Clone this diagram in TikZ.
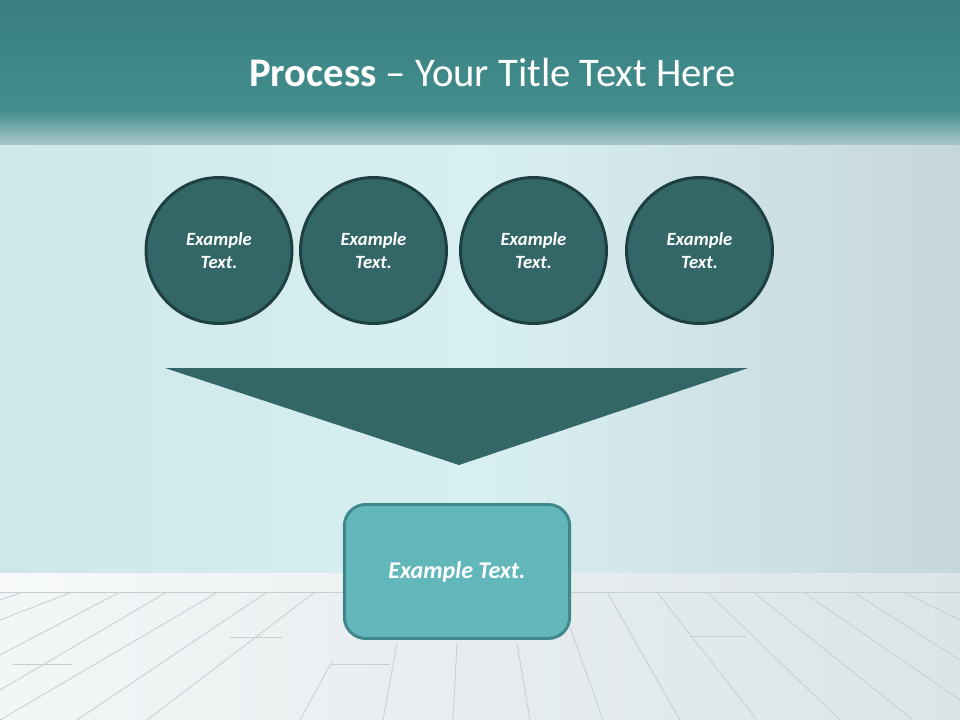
\documentclass[tikz,border=0pt]{standalone}
\usepackage{fontspec}
\setmainfont{Carlito}
\definecolor{bandtop}{HTML}{3A7F80}
\definecolor{bandmid}{HTML}{438D8D}
\definecolor{bandlow}{HTML}{A9C7C8}
\definecolor{wallleft}{HTML}{D0E7EA}
\definecolor{wallmid}{HTML}{D8EFF1}
\definecolor{wallright}{HTML}{C6D7DB}
\definecolor{floorleft}{HTML}{F2F6F7}
\definecolor{floorright}{HTML}{DCE4E6}
\definecolor{plank}{HTML}{C5CED1}
\definecolor{darkteal}{HTML}{336666}
\definecolor{darkrim}{HTML}{1E3F3F}
\definecolor{lightteal}{HTML}{62B7BA}
\definecolor{lightrim}{HTML}{3F878B}
\tikzset{
  stage/.style={circle, draw=darkrim, line width=2.2pt, fill=darkteal,
    minimum size=109.5pt, text=white, align=center,
    font=\fontsize{14}{17}\selectfont\bfseries\itshape},
  result/.style={rectangle, rounded corners=16pt, draw=lightrim, line width=2.2pt,
    fill=lightteal, minimum width=169pt, minimum height=100.5pt, text=white,
    font=\fontsize{18}{22}\selectfont\bfseries\itshape},
  plankline/.style={draw=plank, line width=0.6pt}
}
\begin{document}
\begin{tikzpicture}[x=0.75pt,y=-0.75pt]
\useasboundingbox (0,0) rectangle (960,720);
% background: wall, band, floor
\shade[left color=wallleft, right color=wallright, middle color=wallmid] (0,140) rectangle (960,575);
\shade[top color=bandtop, bottom color=bandmid] (0,0) rectangle (960,110);
\shade[top color=bandmid, bottom color=bandlow] (0,110) rectangle (960,145);
\shade[left color=floorleft!60!white, right color=floorright] (0,573) rectangle (960,592);
\shade[left color=floorleft, right color=floorright] (0,592) rectangle (960,720);
\draw[plankline] (0,592) -- (960,592);
% floor boards
\foreach \xa/\ya/\xb/\yb in {315/592/147/720, 267/592/77/720, 218/592/0/720,
    167/592/0/690, 120/592/0/655, 72/592/0/620, 23/592/0/600,
    333/660/300/720, 397/643/383/720, 457/643/453/720,
    517/643/530/720, 570/627/603/720, 607/592/680/720, 657/592/757/720,
    707/592/840/720, 753/592/913/720, 803/592/960/700, 853/592/960/660,
    903/592/960/620}
  \draw[plankline] (\xa,\ya) -- (\xb,\yb);
\foreach \xa/\xb/\yy in {230/282/637, 13/72/664, 330/390/664, 690/747/636}
  \draw[plankline] (\xa,\yy) -- (\xb,\yy);
% title
\node[anchor=base, text=white, font=\fontsize{30.5}{36}\selectfont] (title) at (492.5,87)
  {\textbf{Process} -- Your Title Text Here};
% four stages
\node[stage] (s1) at (219,250.5) {Example\\Text.};
\node[stage] (s2) at (373.5,250.5) {Example\\Text.};
\node[stage] (s3) at (533.5,250.5) {Example\\Text.};
\node[stage] (s4) at (699.5,250.5) {Example\\Text.};
% funnel
\coordinate (fl) at (165,368);
\coordinate (fr) at (748,368);
\coordinate (ft) at (459,465);
\fill[darkteal] (fl) -- (fr) -- (ft) -- cycle;
% result box
\node[result] (r) at (457,571.5) {\raisebox{-2.5pt}{Example Text.}};
\end{tikzpicture}
\end{document}
